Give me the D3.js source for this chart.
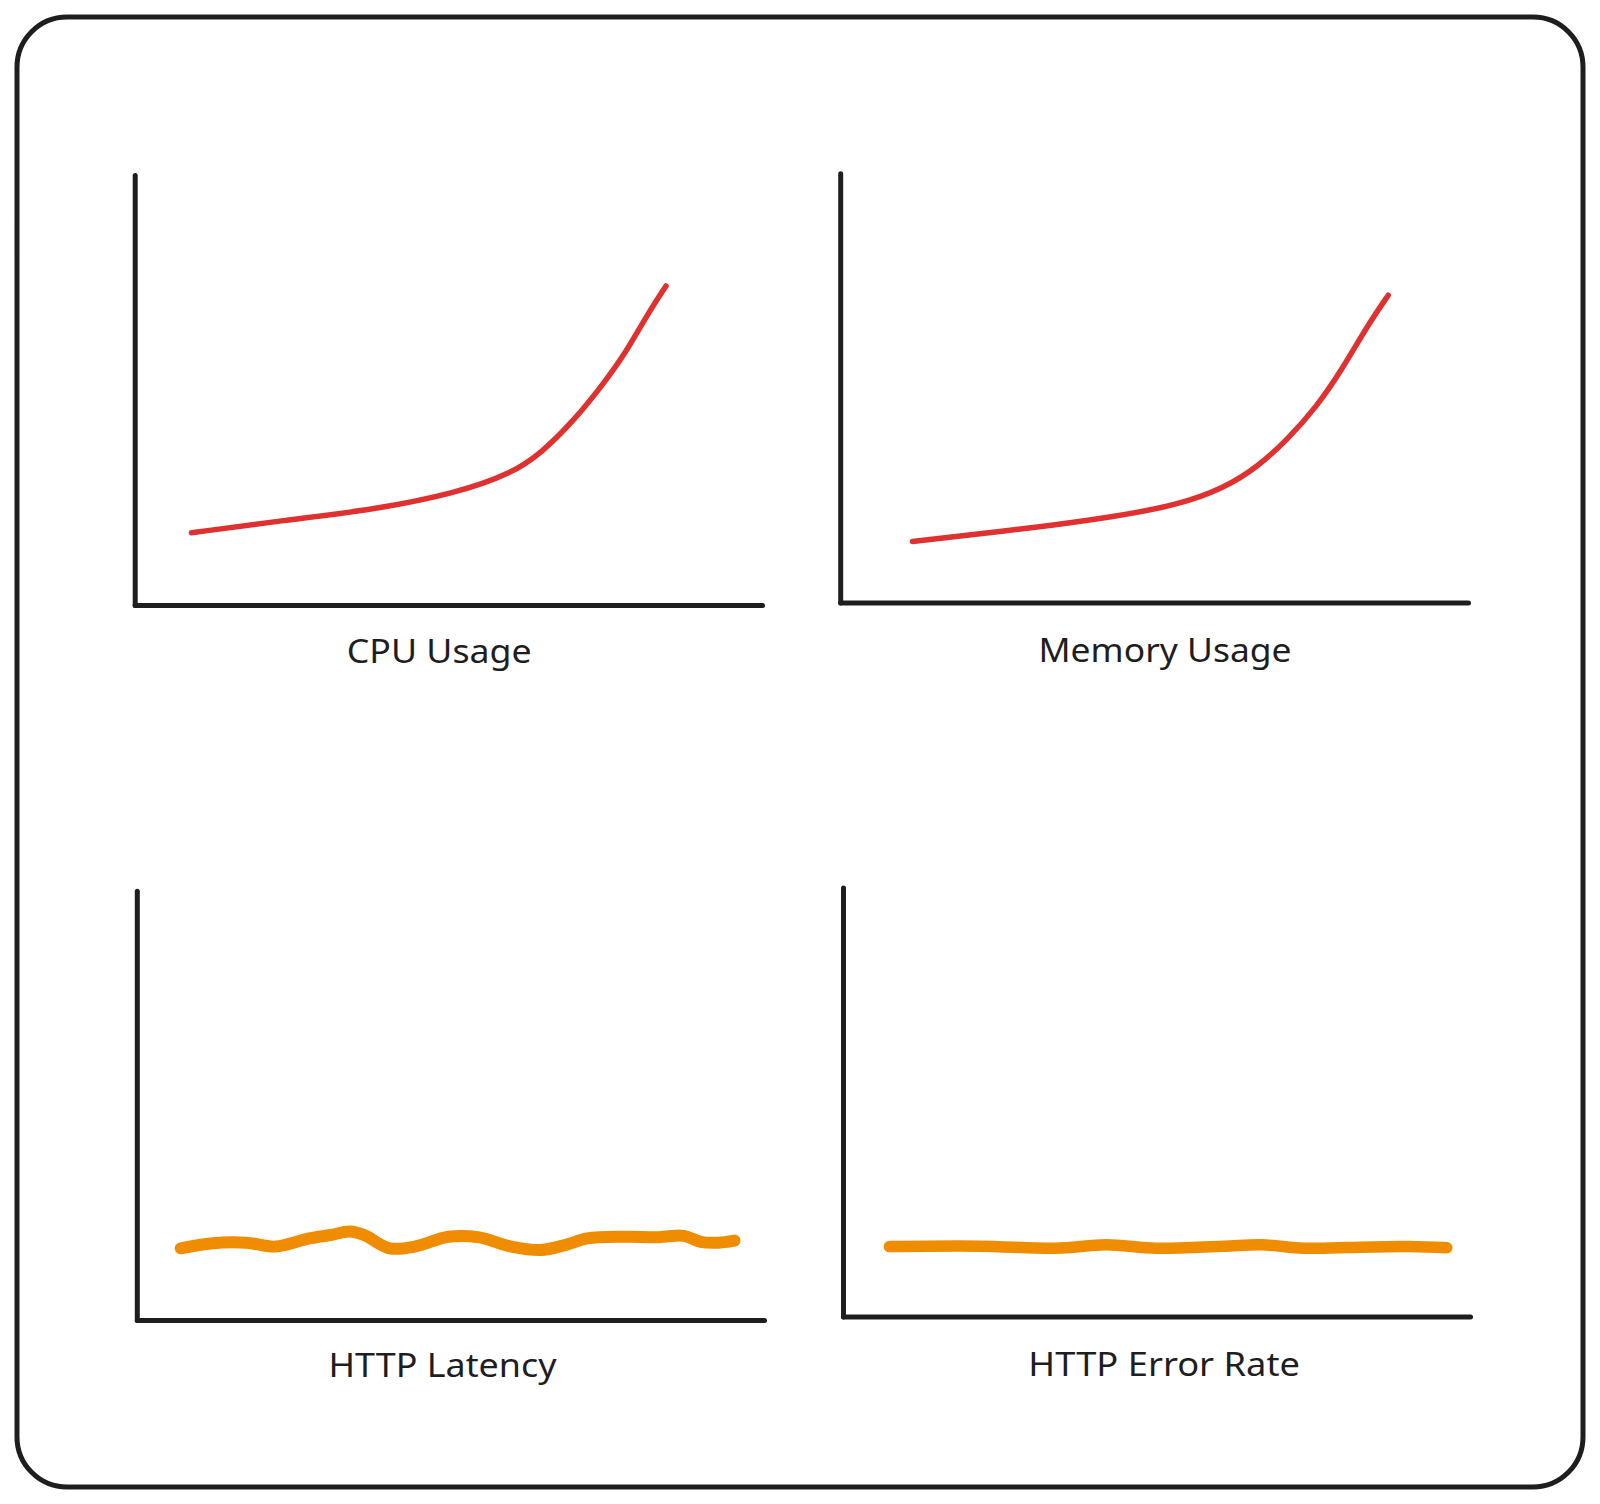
<!DOCTYPE html>
<html>
<head>
<meta charset="utf-8">
<script src="https://cdn.jsdelivr.net/npm/d3@7"></script>
<style>
  html, body { margin: 0; padding: 0; background: #ffffff; }
  svg { display: block; }
</style>
</head>
<body>
<div id="chart"></div>
<script>
// ---- Data (arbitrary units, domain 0..100 on both axes) ----
const panelTitles = ["CPU Usage", "Memory Usage", "HTTP Latency", "HTTP Error Rate"];

const cpuX = [9.05, 24.4, 37.9, 51.3, 60.1, 64.8, 70.1, 74.8, 78.2, 81.5, 84.7];
const cpuY = [16.8, 19.8, 22.1, 26.0, 30.6, 35.3, 43.0, 51.6, 58.5, 67.0, 74.2];

const memX = [11.5, 30.3, 43.7, 53.8, 61.1, 66.5, 71.2, 75.9, 79.9, 83.9, 87.3];
const memY = [14.2, 17.3, 20.0, 22.7, 26.6, 31.6, 37.9, 45.6, 54.2, 64.3, 71.6];

const latX = [7.0, 12.1, 17.5, 22.1, 27.5, 30.9, 33.9, 36.2, 40.3, 44.3, 49.7, 54.4, 59.7, 64.4, 68.4, 71.8, 77.8, 83.2, 87.2, 89.9, 92.6, 95.3];
const latY = [16.7, 17.9, 18.0, 17.1, 19.0, 19.8, 20.6, 19.8, 16.7, 17.1, 19.4, 19.3, 17.1, 16.3, 17.5, 19.0, 19.4, 19.3, 19.6, 18.2, 18.0, 18.5];

const errX = [7.4, 21.8, 33.9, 42.0, 50.0, 60.8, 66.8, 73.5, 80.2, 90.3, 96.3];
const errY = [16.3, 16.4, 15.9, 16.7, 15.9, 16.4, 16.7, 15.9, 16.1, 16.3, 16.0];

const xDomain = [0, 100];
const yDomain = [0, 100];

// ---- Layout ----
const W = 1600, H = 1504;
const colors = { ink: "#1e1e1e", red: "#e03131", orange: "#f08c00" };

const panels = [
  { title: panelTitles[0], xs: cpuX, ys: cpuY, color: colors.red,    lw: 5.5, curve: d3.curveBasis,
    left: 134.7, right: 762, top: 175, bottom: 605, lx: 439.2, ly: 663.3, tl: 185 },
  { title: panelTitles[1], xs: memX, ys: memY, color: colors.red,    lw: 5.5, curve: d3.curveBasis,
    left: 840.2, right: 1468, top: 173.3, bottom: 602.5, lx: 1165, ly: 661.7, tl: 253 },
  { title: panelTitles[2], xs: latX, ys: latY, color: colors.orange, lw: 12, curve: d3.curveCatmullRom.alpha(0.5),
    left: 136.8, right: 764, top: 890.7, bottom: 1320, lx: 442.5, ly: 1376.7, tl: 228 },
  { title: panelTitles[3], xs: errX, ys: errY, color: colors.orange, lw: 11.5, curve: d3.curveCatmullRom.alpha(0.5),
    left: 843, right: 1470, top: 887.5, bottom: 1316.5, lx: 1164.2, ly: 1375.5, tl: 271.7 }
];

const svg = d3.select("#chart").append("svg")
  .attr("width", W).attr("height", H);

svg.append("rect").attr("width", W).attr("height", H).attr("fill", "#ffffff");

// outer rounded frame
svg.append("rect")
  .attr("x", 17).attr("y", 17)
  .attr("width", 1566).attr("height", 1470)
  .attr("rx", 50).attr("ry", 50)
  .attr("fill", "none")
  .attr("stroke", colors.ink)
  .attr("stroke-width", 5);

panels.forEach(p => {
  const x = d3.scaleLinear().domain(xDomain).range([p.left, p.right]);
  const y = d3.scaleLinear().domain(yDomain).range([p.bottom, p.top]);
  const g = svg.append("g");

  // axes (no ticks, just the domain lines)
  g.append("g")
    .attr("transform", `translate(0,${y(0)})`)
    .call(d3.axisBottom(x).ticks(0).tickSize(0).tickSizeOuter(0))
    .call(s => s.select(".domain")
      .attr("stroke", colors.ink).attr("stroke-width", 5).attr("stroke-linecap", "round"))
    .call(s => s.selectAll("text").remove());
  g.append("g")
    .attr("transform", `translate(${x(0)},0)`)
    .call(d3.axisLeft(y).ticks(0).tickSize(0).tickSizeOuter(0))
    .call(s => s.select(".domain")
      .attr("stroke", colors.ink).attr("stroke-width", 5).attr("stroke-linecap", "round"))
    .call(s => s.selectAll("text").remove());

  const pts = p.xs.map((v, i) => [v, p.ys[i]]);
  const line = d3.line()
    .x(d => x(d[0]))
    .y(d => y(d[1]))
    .curve(p.curve);

  g.append("path")
    .datum(pts)
    .attr("d", line)
    .attr("fill", "none")
    .attr("stroke", p.color)
    .attr("stroke-width", p.lw)
    .attr("stroke-linecap", "round")
    .attr("stroke-linejoin", "round");

  g.append("text")
    .attr("x", p.lx)
    .attr("y", p.ly)
    .attr("text-anchor", "middle")
    .attr("font-family", "'Noto Sans', 'Open Sans', sans-serif")
    .attr("font-size", 32)
    .attr("fill", colors.ink)
    .attr("textLength", p.tl)
    .attr("lengthAdjust", "spacingAndGlyphs")
    .text(p.title);
});
</script>
</body>
</html>
